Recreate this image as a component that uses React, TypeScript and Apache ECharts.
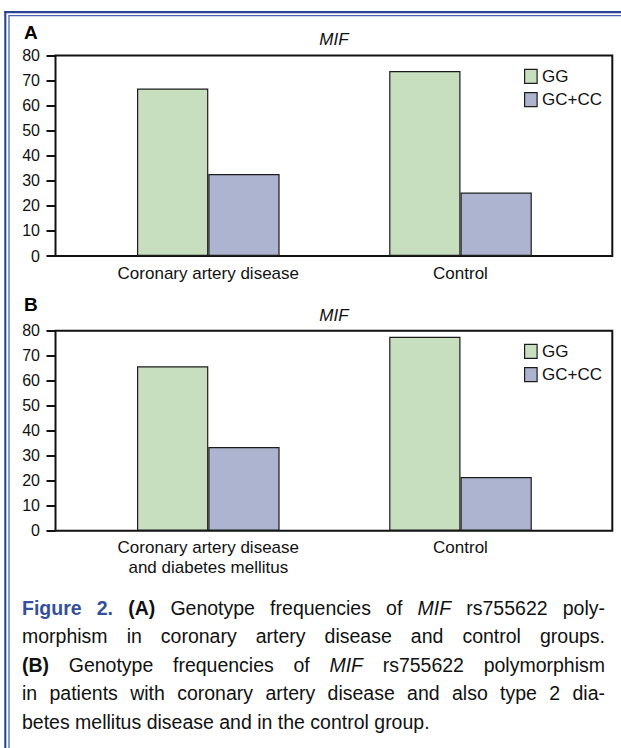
import React, { useEffect, useRef } from 'react';
import * as echarts from 'echarts';

// ---------- data ----------
const panelLetters = ['A', 'B'];
const panelTitle = 'MIF';
const seriesNames = ['GG', 'GC+CC'];
const categoriesA = ['Coronary artery disease', 'Control'];
const categoriesB = ['Coronary artery disease\nand diabetes mellitus', 'Control'];
const ggA = [66.8, 73.8];
const gcA = [32.7, 25.3];
const ggB = [65.8, 77.6];
const gcB = [33.5, 21.5];
const yMin = 0;
const yMax = 80;
const yStep = 10;

type Seg = { t: string; s?: 'b' | 'i' | 'fig' };
const captionLines: Seg[][] = [
  [{ t: 'Figure 2.', s: 'fig' }, { t: '(A)', s: 'b' }, { t: 'Genotype frequencies of' }, { t: 'MIF', s: 'i' }, { t: 'rs755622 poly-' }],
  [{ t: 'morphism in coronary artery disease and control groups.' }],
  [{ t: '(B)', s: 'b' }, { t: 'Genotype frequencies of' }, { t: 'MIF', s: 'i' }, { t: 'rs755622 polymorphism' }],
  [{ t: 'in patients with coronary artery disease and also type 2 dia-' }],
  [{ t: 'betes mellitus disease and in the control group.' }],
];

// ---------- styles / layout ----------
const FONT = '"Liberation Sans", Arial, Helvetica, sans-serif';
const INK = '#111111';
const GREEN = '#c7dfbf';
const BLUE = '#adb4cf';
const BAR_EDGE = '#1c1c1c';
const FIG_BLUE = '#34509c';
const W = 621;
const H = 748;

const frameLeft = 55.5;
const frameRight = 612.3;
const barsLeft = 82.2;
const barsRight = 586.6;
const barWidth = 71.3;

const panels = [
  { top: 55.5, bottom: 256, letterY: 32.2, titleY: 39, legendTop: 67.8, cats: categoriesA, gg: ggA, gc: gcA },
  { top: 330.8, bottom: 530.7, letterY: 304.5, titleY: 315.8, legendTop: 342.8, cats: categoriesB, gg: ggB, gc: gcB },
];

const CAP_SIZE = 19.5;
const CAP_LEFT = 22;
const CAP_RIGHT = 605;
const CAP_Y0 = 607.5;
const CAP_LH = 28.5;

function captionElements(): any[] {
  const canvas = document.createElement('canvas');
  const ctx = canvas.getContext('2d') as CanvasRenderingContext2D;
  const fontOf = (s?: string) =>
    `${s === 'i' ? 'italic ' : ''}${s === 'b' || s === 'fig' ? 'bold ' : ''}${CAP_SIZE}px ${FONT}`;
  const els: any[] = [];
  captionLines.forEach((line, li) => {
    const words: { w: string; s?: string }[] = [];
    line.forEach((seg) => seg.t.split(' ').forEach((w) => words.push({ w, s: seg.s })));
    const widths = words.map((o) => {
      ctx.font = fontOf(o.s);
      return ctx.measureText(o.w).width;
    });
    const total = widths.reduce((a, b) => a + b, 0);
    ctx.font = fontOf();
    const space = ctx.measureText(' ').width;
    const last = li === captionLines.length - 1;
    const gap = last ? space : (CAP_RIGHT - CAP_LEFT - total) / (words.length - 1);
    let x = CAP_LEFT;
    words.forEach((o, k) => {
      els.push({
        type: 'text',
        x,
        y: CAP_Y0 + li * CAP_LH,
        silent: true,
        style: {
          text: o.w,
          fill: o.s === 'fig' ? FIG_BLUE : INK,
          fontSize: CAP_SIZE,
          fontFamily: FONT,
          fontWeight: o.s === 'b' || o.s === 'fig' ? 'bold' : 'normal',
          fontStyle: o.s === 'i' ? 'italic' : 'normal',
          textAlign: 'left',
          verticalAlign: 'middle',
        },
      });
      x += widths[k] + gap;
    });
  });
  return els;
}

function buildOption(): any {
  const grid: any[] = [];
  const xAxis: any[] = [];
  const yAxis: any[] = [];
  const series: any[] = [];
  const legend: any[] = [];
  const graphic: any[] = [];

  panels.forEach((p, i) => {
    const h = p.bottom - p.top;
    grid.push({
      left: frameLeft,
      top: p.top,
      width: frameRight - frameLeft,
      height: h,
      show: true,
      borderColor: INK,
      borderWidth: 2,
      backgroundColor: 'rgba(0,0,0,0)',
    });
    grid.push({ left: barsLeft, top: p.top, width: barsRight - barsLeft, height: h });

    xAxis.push({ gridIndex: 2 * i, type: 'value', show: false, min: 0, max: 1 });
    xAxis.push({
      gridIndex: 2 * i + 1,
      type: 'category',
      data: p.cats,
      axisLine: { show: false },
      axisTick: { show: false },
      axisLabel: { margin: 7, fontSize: 17, lineHeight: 20, color: INK, fontFamily: FONT },
    });
    yAxis.push({
      gridIndex: 2 * i,
      type: 'value',
      min: yMin,
      max: yMax,
      interval: yStep,
      axisLine: { show: false },
      axisTick: { show: true, length: 9, lineStyle: { color: INK, width: 2 } },
      axisLabel: { margin: 15.5, fontSize: 16, color: INK, fontFamily: FONT },
      splitLine: { show: false },
    });
    yAxis.push({ gridIndex: 2 * i + 1, type: 'value', min: yMin, max: yMax, show: false });

    series.push({
      type: 'bar',
      name: seriesNames[0],
      xAxisIndex: 2 * i + 1,
      yAxisIndex: 2 * i + 1,
      data: p.gg,
      barWidth,
      barGap: '0%',
      itemStyle: { color: GREEN, borderColor: BAR_EDGE, borderWidth: 1.2 },
    });
    series.push({
      type: 'bar',
      name: seriesNames[1],
      xAxisIndex: 2 * i + 1,
      yAxisIndex: 2 * i + 1,
      data: p.gc,
      barWidth,
      barGap: '0%',
      itemStyle: { color: BLUE, borderColor: BAR_EDGE, borderWidth: 1.2 },
    });

    legend.push({
      left: 524,
      top: p.legendTop,
      orient: 'vertical',
      data: seriesNames,
      icon: 'rect',
      itemWidth: 12.5,
      itemHeight: 14,
      itemGap: 6.4,
      padding: 0,
      selectedMode: false,
      textStyle: { fontSize: 17, color: INK, fontFamily: FONT },
      itemStyle: { borderColor: BAR_EDGE, borderWidth: 1.2 },
    });

    graphic.push({
      type: 'text',
      x: 24,
      y: p.letterY,
      silent: true,
      style: {
        text: panelLetters[i],
        fontSize: 19,
        fontWeight: 'bold',
        fontFamily: FONT,
        fill: '#000',
        textAlign: 'left',
        verticalAlign: 'middle',
      },
    });
    graphic.push({
      type: 'text',
      x: (frameLeft + frameRight) / 2,
      y: p.titleY,
      silent: true,
      style: {
        text: panelTitle,
        fontSize: 17,
        fontStyle: 'italic',
        fontFamily: FONT,
        fill: INK,
        textAlign: 'center',
        verticalAlign: 'middle',
      },
    });
  });

  graphic.push(
    { type: 'line', silent: true, shape: { x1: 4.3, y1: 12.2, x2: W, y2: 12.2 }, style: { stroke: '#2a4594', lineWidth: 2.3 } },
    { type: 'line', silent: true, shape: { x1: 8.9, y1: 15.7, x2: W, y2: 15.7 }, style: { stroke: '#4d64ad', lineWidth: 1.3 } },
    { type: 'line', silent: true, shape: { x1: 5.3, y1: 11.1, x2: 5.3, y2: H }, style: { stroke: '#2a4594', lineWidth: 2.1 } },
    { type: 'line', silent: true, shape: { x1: 9, y1: 15.1, x2: 9, y2: H }, style: { stroke: '#4d64ad', lineWidth: 1.3 } }
  );

  graphic.push(...captionElements());

  return {
    animation: false,
    backgroundColor: '#ffffff',
    grid,
    xAxis,
    yAxis,
    series,
    legend,
    graphic,
  };
}

export default function App() {
  const ref = useRef<HTMLDivElement>(null);
  useEffect(() => {
    if (!ref.current) return;
    const chart = echarts.init(ref.current, undefined, { renderer: 'svg' });
    chart.setOption(buildOption());
    return () => chart.dispose();
  }, []);
  return (
    <div
      ref={ref}
      style={{ position: 'fixed', left: 0, top: 0, width: W, height: H, background: '#fff' }}
    />
  );
}
